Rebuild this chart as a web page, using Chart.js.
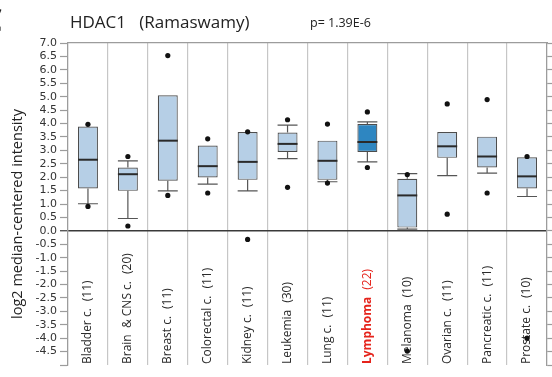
<!DOCTYPE html>
<html>
<head>
<meta charset="utf-8">
<script src="https://cdn.jsdelivr.net/npm/chart.js@4.4.1/dist/chart.umd.min.js"></script>
<style>
  html, body { margin: 0; padding: 0; background: #fff; }
  #wrap { position: relative; width: 552px; height: 377px; overflow: hidden; }
  #chart { position: absolute; left: 0; top: 0; }
  .txt { position: absolute; white-space: pre; font-family: "Open Sans", sans-serif; color: #222; line-height: 1; }
</style>
</head>
<body>
<div id="wrap">
  <canvas id="chart" width="552" height="377"></canvas>
  <div class="txt" style="left:-19px;top:2px;font-size:34px;font-weight:bold;">C</div>
  <div class="txt" style="left:70px;top:13px;font-size:17px;">HDAC1   (Ramaswamy)</div>
  <div class="txt" style="left:310px;top:17px;font-size:12.5px;">p= 1.39E-6</div>
</div>
<script>
// Cancer types and number of samples in each group
const categories = ['Bladder c.', 'Brain  & CNS c.', 'Breast c.', 'Colorectal c.', 'Kidney c.', 'Leukemia',
                    'Lung c.', 'Lymphoma', 'Melanoma', 'Ovarian c.', 'Pancreatic c.', 'Prostate c.'];
const sampleCounts = [11, 20, 11, 11, 11, 30, 11, 22, 10, 11, 11, 10];
const highlightCategory = 'Lymphoma';

// log2 median-centered intensity: box statistics per group
const minVals    = [0.91, 0.18, 1.32, 1.41, -0.32, 1.62, 1.78, 2.36, -4.48, 0.62, 1.41, -4.00];
const p10Vals    = [1.01, 0.46, 1.49, 1.74, 1.49, 2.69, 1.83, 2.57, 0.06, 2.06, 2.15, 1.28];
const q1Vals     = [1.58, 1.49, 1.87, 1.99, 1.90, 2.94, 1.90, 2.94, 0.12, 2.72, 2.36, 1.58];
const medianVals = [2.65, 2.11, 3.36, 2.41, 2.57, 3.24, 2.61, 3.31, 1.32, 3.15, 2.77, 2.03];
const q3Vals     = [3.89, 2.36, 5.05, 3.18, 3.68, 3.66, 3.36, 3.98, 1.94, 3.68, 3.51, 2.74];
const p90Vals    = [3.89, 2.61, 5.05, 3.18, 3.68, 3.94, 3.36, 4.06, 2.13, 3.68, 3.51, 2.74];
const maxVals    = [3.97, 2.77, 6.53, 3.43, 3.69, 4.14, 3.98, 4.43, 2.10, 4.73, 4.89, 2.77];

// Axis range
const yMin = -5.0;
const yMax = 7.0;
const yStep = 0.5;

const AXIS_GREY = '#9c9c9c';

// Whiskers (10th/90th percentile) and median lines on top of each box
const boxPlotMarks = {
  id: 'boxPlotMarks',
  afterDatasetDraw(chart, args) {
    if (args.index !== 0) return;
    const { ctx, scales: { y } } = chart;
    ctx.save();
    args.meta.data.forEach((bar, i) => {
      const half = bar.width / 2;
      const x = bar.x;
      ctx.strokeStyle = '#555';
      ctx.lineWidth = 1.2;
      [[q3Vals[i], p90Vals[i]], [q1Vals[i], p10Vals[i]]].forEach(([from, to]) => {
        if (from === to) return;
        const y0 = y.getPixelForValue(from);
        const y1 = y.getPixelForValue(to);
        ctx.beginPath();
        ctx.moveTo(x, y0);
        ctx.lineTo(x, y1);
        ctx.moveTo(x - half, y1);
        ctx.lineTo(x + half, y1);
        ctx.stroke();
      });
      const ym = y.getPixelForValue(medianVals[i]);
      ctx.strokeStyle = '#2a2a2a';
      ctx.lineWidth = 2;
      ctx.beginPath();
      ctx.moveTo(x - half, ym);
      ctx.lineTo(x + half, ym);
      ctx.stroke();
    });
    ctx.restore();
  }
};

// Group names written vertically inside the lower part of the plot
const categoryLabels = {
  id: 'categoryLabels',
  beforeDatasetsDraw(chart) {
    const { ctx, chartArea, scales: { x } } = chart;
    const baseY = chartArea.bottom - 1;
    categories.forEach((name, i) => {
      const px = x.getPixelForValue(i);
      const hl = name === highlightCategory;
      ctx.save();
      ctx.translate(px, baseY);
      ctx.rotate(-Math.PI / 2);
      ctx.textAlign = 'left';
      ctx.textBaseline = 'middle';
      ctx.fillStyle = hl ? '#e5231b' : '#2a2a2a';
      ctx.font = (hl ? 'bold ' : '') + '12px "Open Sans"';
      ctx.fillText(name, 0, 0);
      const w = ctx.measureText(name).width;
      ctx.font = '12px "Open Sans"';
      ctx.fillText('(' + sampleCounts[i] + ')', w + 7, 0);
      ctx.restore();
    });
  }
};

// Vertical y-axis title
const yAxisTitle = {
  id: 'yAxisTitle',
  afterDraw(chart) {
    const { ctx } = chart;
    ctx.save();
    ctx.translate(18, 214);
    ctx.rotate(-Math.PI / 2);
    ctx.textAlign = 'center';
    ctx.textBaseline = 'middle';
    ctx.fillStyle = '#222';
    ctx.font = '14.5px "Open Sans"';
    ctx.fillText('log2 median-centered intensity', 0, 0);
    ctx.restore();
  }
};

const isZero = (c) => c.tick && Math.abs(c.tick.value) < 1e-9;

new Chart(document.getElementById('chart'), {
  type: 'bar',
  data: {
    labels: categories,
    datasets: [
      {
        type: 'bar',
        label: 'Interquartile range',
        data: q1Vals.map((q, i) => [q, q3Vals[i]]),
        backgroundColor: categories.map(c => c === highlightCategory ? '#2e86c1' : '#b6cfe6'),
        borderColor: '#4d4d4d',
        borderWidth: 1.2,
        borderSkipped: false,
        barPercentage: 0.5,
        categoryPercentage: 1.0,
        xAxisID: 'x',
        yAxisID: 'y',
        order: 2
      },
      {
        type: 'line',
        label: 'Maximum',
        data: maxVals,
        showLine: false,
        pointRadius: 2.6,
        pointBackgroundColor: '#111',
        pointBorderWidth: 0,
        xAxisID: 'x',
        yAxisID: 'y',
        order: 0
      },
      {
        type: 'line',
        label: 'Minimum',
        data: minVals,
        showLine: false,
        pointRadius: 2.6,
        pointBackgroundColor: '#111',
        pointBorderWidth: 0,
        xAxisID: 'x',
        yAxisID: 'y',
        order: 0
      }
    ]
  },
  options: {
    responsive: false,
    animation: false,
    devicePixelRatio: 1,
    layout: { padding: { top: 43, bottom: 12, left: 0, right: 0 } },
    plugins: { legend: { display: false }, tooltip: { enabled: false }, title: { display: false } },
    scales: {
      x: {
        position: 'bottom',
        grid: { offset: true, color: '#c6c6c6', lineWidth: 1.2, drawTicks: false },
        ticks: { display: false },
        border: { display: false },
        afterFit: s => { s.height = 0; }
      },
      xTop: {
        type: 'category',
        position: 'top',
        grid: { display: false, drawTicks: false },
        ticks: { display: false },
        border: { display: true, color: AXIS_GREY, width: 1.2 },
        afterFit: s => { s.height = 0; }
      },
      y: {
        position: 'left',
        min: yMin,
        max: yMax,
        ticks: {
          stepSize: yStep,
          autoSkip: false,
          padding: 3,
          color: '#333',
          font: { family: 'DejaVu Sans', size: 11 },
          callback: v => (v <= yMin ? '' : Number(v).toFixed(1))
        },
        grid: {
          drawTicks: true,
          tickLength: 8,
          color: c => isZero(c) ? '#3a3a3a' : 'rgba(0,0,0,0)',
          lineWidth: c => isZero(c) ? 1.5 : 1,
          tickColor: c => isZero(c) ? '#3a3a3a' : AXIS_GREY,
          tickWidth: 1.2
        },
        border: { color: AXIS_GREY, width: 1.2 },
        afterFit: s => { s.width = 68; }
      },
      y2: {
        position: 'right',
        min: yMin,
        max: yMax,
        ticks: { display: false, stepSize: yStep, autoSkip: false },
        grid: { drawOnChartArea: false, drawTicks: true, tickLength: 5, tickColor: AXIS_GREY, tickWidth: 1.2 },
        border: { color: AXIS_GREY, width: 1.2 },
        afterFit: s => { s.width = 5; }
      }
    }
  },
  plugins: [boxPlotMarks, categoryLabels, yAxisTitle]
});
</script>
</body>
</html>
